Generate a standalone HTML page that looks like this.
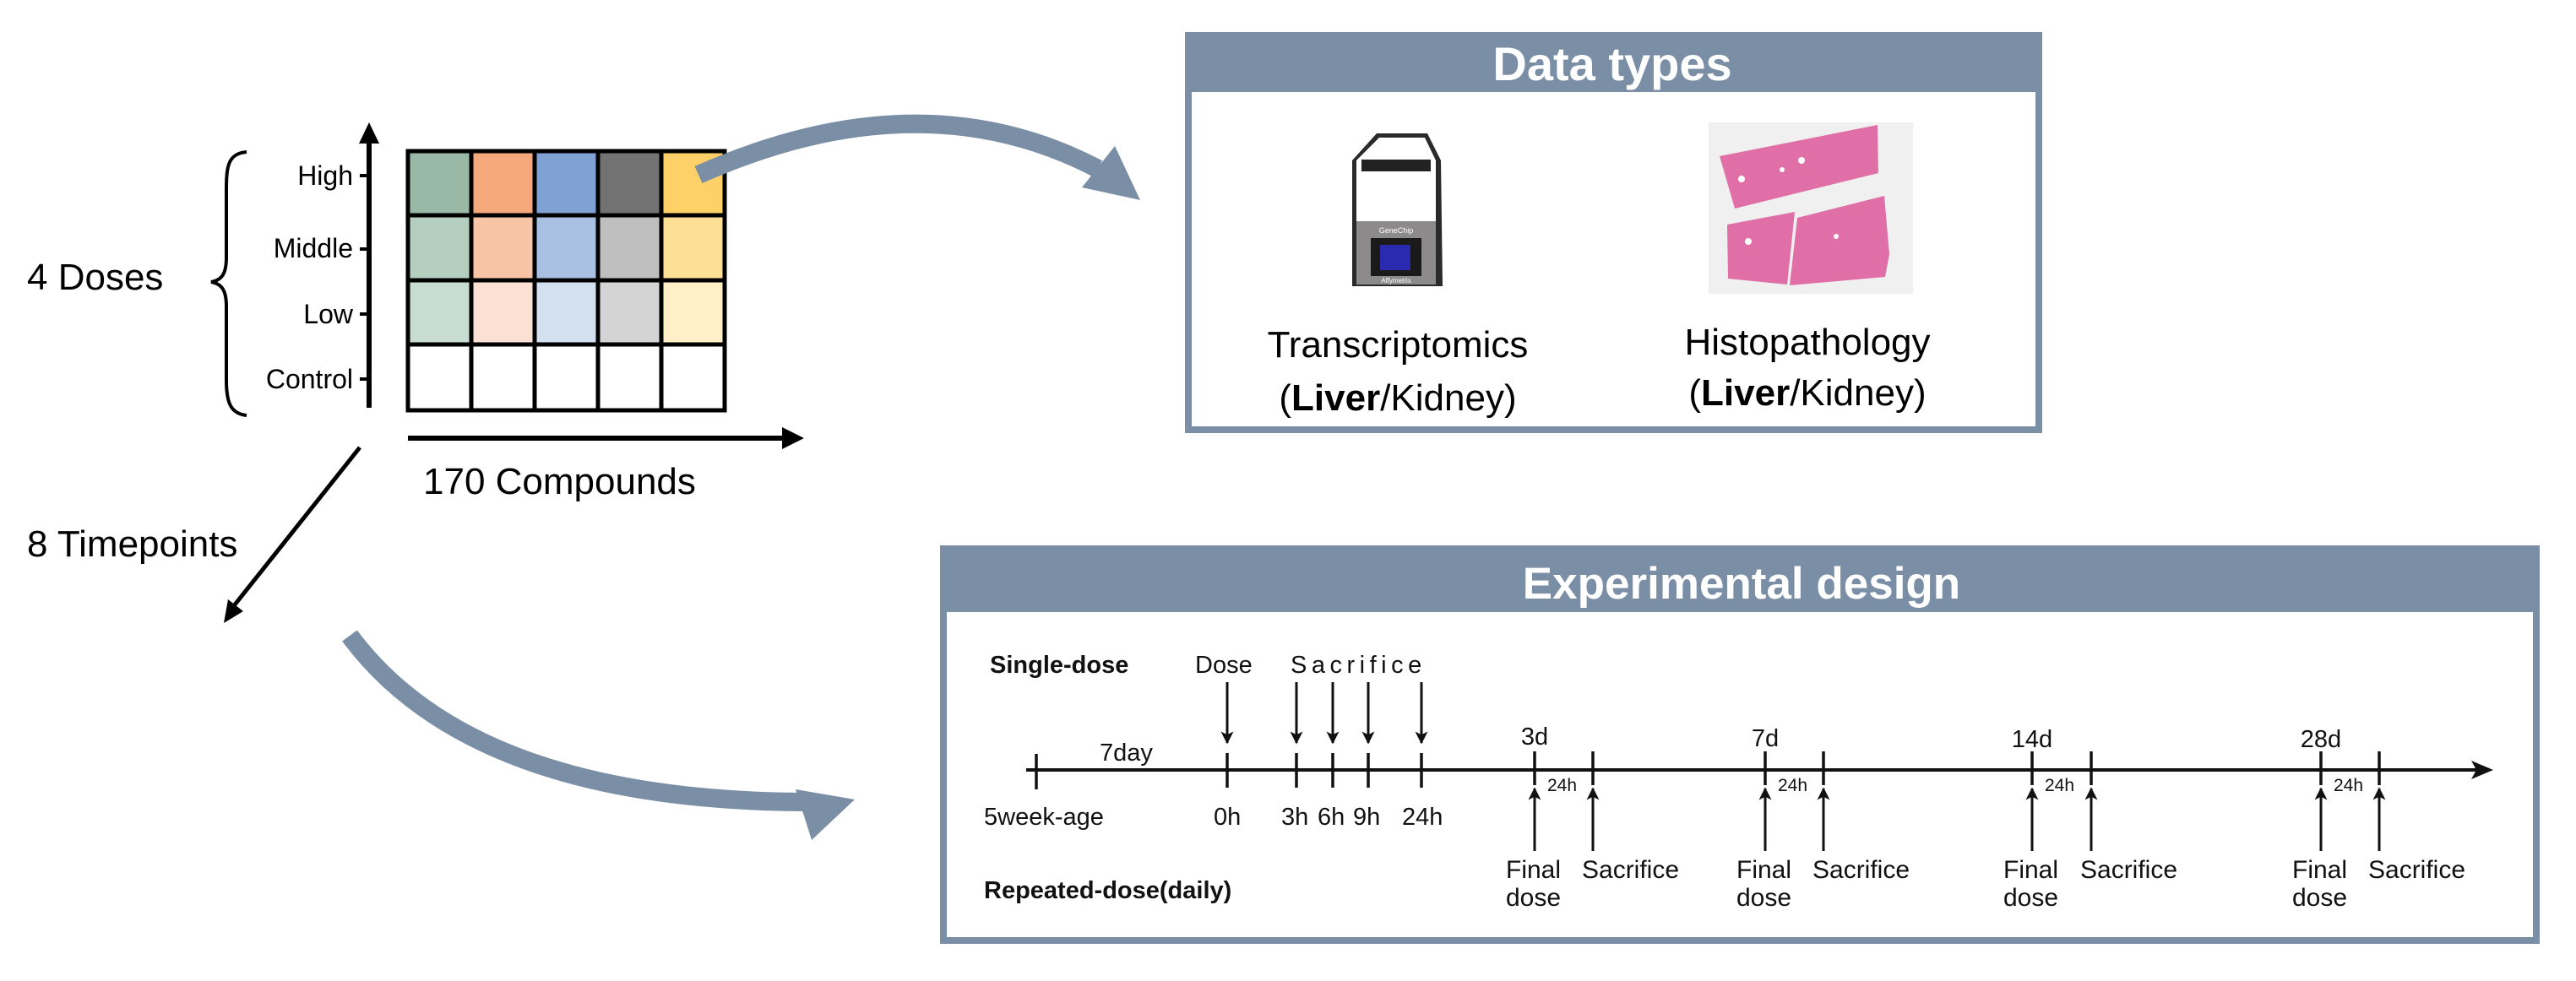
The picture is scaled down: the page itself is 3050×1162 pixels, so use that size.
<!DOCTYPE html>
<html><head><meta charset="utf-8"><style>
html,body{margin:0;padding:0;background:#fff;}
svg{display:block;font-family:"Liberation Sans",Arial,sans-serif;}
</style></head><body>
<svg width="3050" height="1162" viewBox="0 0 3050 1162" xmlns="http://www.w3.org/2000/svg">
<defs>
<marker id="ah2" viewBox="0 0 10 10" refX="9" refY="5" markerWidth="6" markerHeight="5" orient="auto"><path d="M0,0 L10,5 L0,10 L2.5,5 z" fill="#111"/></marker>
</defs>

<g>
<rect x="483" y="179" width="75" height="76" fill="#99b9a6"/><rect x="558" y="179" width="75" height="76" fill="#f5a87c"/><rect x="633" y="179" width="75" height="76" fill="#7fa1d4"/><rect x="708" y="179" width="75" height="76" fill="#727272"/><rect x="783" y="179" width="75" height="76" fill="#fdd168"/>
<rect x="483" y="255" width="75" height="77" fill="#b4cebf"/><rect x="558" y="255" width="75" height="77" fill="#f8c4a6"/><rect x="633" y="255" width="75" height="77" fill="#a8c0e2"/><rect x="708" y="255" width="75" height="77" fill="#bfbfbf"/><rect x="783" y="255" width="75" height="77" fill="#fde096"/>
<rect x="483" y="332" width="75" height="76" fill="#c9dcd1"/><rect x="558" y="332" width="75" height="76" fill="#fbe0d3"/><rect x="633" y="332" width="75" height="76" fill="#d3e0f0"/><rect x="708" y="332" width="75" height="76" fill="#d4d4d4"/><rect x="783" y="332" width="75" height="76" fill="#fff0c8"/>
<g stroke="#000" stroke-width="5" fill="none">
<rect x="483" y="179" width="375" height="307"/>
<line x1="558" y1="179" x2="558" y2="486"/><line x1="633" y1="179" x2="633" y2="486"/><line x1="708" y1="179" x2="708" y2="486"/><line x1="783" y1="179" x2="783" y2="486"/>
<line x1="483" y1="255" x2="858" y2="255"/><line x1="483" y1="332" x2="858" y2="332"/><line x1="483" y1="408" x2="858" y2="408"/>
</g>
</g>
<line x1="437" y1="483" x2="437" y2="168" stroke="#000" stroke-width="6"/>
<path d="M437,145 L449,170 L425,170 z" fill="#000"/>
<g stroke="#000" stroke-width="4"><line x1="426" y1="208" x2="437" y2="208"/><line x1="426" y1="295" x2="437" y2="295"/><line x1="426" y1="372" x2="437" y2="372"/><line x1="426" y1="449" x2="437" y2="449"/></g>
<g font-size="32" text-anchor="end" fill="#000">
<text x="418" y="219">High</text><text x="418" y="305">Middle</text><text x="418" y="383">Low</text><text x="418" y="460">Control</text>
</g>
<path d="M292,180 C268,182 268,200 268,230 L268,305 C268,325 262,332 250,334 C262,336 268,343 268,363 L268,450 C268,475 272,490 292,492" stroke="#000" stroke-width="4" fill="none"/>
<text x="32" y="343" font-size="44">4 Doses</text>
<line x1="483" y1="519" x2="930" y2="519" stroke="#000" stroke-width="6"/>
<path d="M952,519 L926,506 L926,532 z" fill="#000"/>
<text x="501" y="585" font-size="44">170 Compounds</text>
<line x1="426" y1="530" x2="275" y2="720" stroke="#000" stroke-width="5"/>
<path d="M265,738 L270,710 L288,724 z" fill="#000"/>
<text x="32" y="659" font-size="44">8 Timepoints</text>

<path d="M827,207 Q1090,90 1300,200" stroke="#7a8ea6" stroke-width="22" fill="none"/>
<path d="M1350,237 L1320,173 L1281,222 z" fill="#7a8ea6"/>
<path d="M414,753 Q560,950 960,950" stroke="#7a8ea6" stroke-width="22" fill="none"/>
<path d="M1012,947 L942,935 L961,995 z" fill="#7a8ea6"/>

<rect x="1403" y="38" width="1015" height="475" fill="#7a8ea6"/>
<rect x="1411" y="109" width="999" height="396" fill="#fff"/>
<text x="1909" y="95" font-size="56" font-weight="bold" fill="#fff" text-anchor="middle">Data types</text>
<path d="M1630,158 L1690,158 L1706,190 L1708,339 L1601,339 L1601,190 z" fill="#2a2a2a"/>
<path d="M1633,163 L1687,163 L1700,190 L1700,262 L1606,262 L1606,190 z" fill="#fff"/>
<rect x="1606" y="262" width="94" height="75" fill="#8c8a8a"/>
<rect x="1612" y="189" width="82" height="14" fill="#222"/>
<rect x="1623" y="282" width="60" height="45" fill="#1a1a1a"/>
<rect x="1634" y="290" width="36" height="30" fill="#2a2ab0"/>
<text x="1653" y="276" font-size="9" fill="#fff" text-anchor="middle">GeneChip</text>
<text x="1653" y="335" font-size="8" fill="#fff" text-anchor="middle">Affymetrix</text>
<rect x="2023" y="145" width="242" height="203" fill="#f1f0f0"/>
<path d="M2036,185 L2223,148 L2224,205 L2054,247 z" fill="#df6fa6"/>
<path d="M2045,266 L2125,251 L2116,337 L2046,330 z" fill="#df6fa6"/>
<path d="M2128,258 L2231,232 L2237,301 L2232,328 L2119,338 z" fill="#df6fa6"/>
<g fill="#fff"><circle cx="2133" cy="190" r="4"/><circle cx="2110" cy="201" r="3"/><circle cx="2062" cy="212" r="4"/><circle cx="2070" cy="286" r="4"/><circle cx="2174" cy="280" r="3"/></g>
<g font-size="44" fill="#000" text-anchor="middle">
<text x="1655" y="423">Transcriptomics</text>
<text x="1655" y="486">(<tspan font-weight="bold">Liver</tspan>/Kidney)</text>
<text x="2140" y="420">Histopathology</text>
<text x="2140" y="480">(<tspan font-weight="bold">Liver</tspan>/Kidney)</text>
</g>

<rect x="1113" y="646" width="1894" height="472" fill="#7a8ea6"/>
<rect x="1121" y="725" width="1878" height="385" fill="#fff"/>
<text x="2062" y="709" font-size="53" font-weight="bold" fill="#fff" text-anchor="middle">Experimental design</text>

<line x1="1215" y1="912" x2="2945" y2="912" stroke="#111" stroke-width="4"/>
<path d="M2952,912 L2926,901 L2932,912 L2926,923 z" fill="#111"/>
<g stroke="#111" stroke-width="3.5">
<line x1="1227" y1="893" x2="1227" y2="935"/>
<line x1="1453" y1="892" x2="1453" y2="933"/><line x1="1535" y1="892" x2="1535" y2="933"/><line x1="1578" y1="892" x2="1578" y2="933"/><line x1="1620" y1="892" x2="1620" y2="933"/><line x1="1683" y1="892" x2="1683" y2="933"/>
<line x1="1817" y1="890" x2="1817" y2="930"/><line x1="1886" y1="890" x2="1886" y2="930"/>
<line x1="2090" y1="890" x2="2090" y2="930"/><line x1="2159" y1="890" x2="2159" y2="930"/>
<line x1="2406" y1="890" x2="2406" y2="930"/><line x1="2476" y1="890" x2="2476" y2="930"/>
<line x1="2748" y1="890" x2="2748" y2="930"/><line x1="2817" y1="890" x2="2817" y2="930"/>
</g>
<g stroke="#111" stroke-width="3" marker-end="url(#ah2)">
<line x1="1453" y1="808" x2="1453" y2="880"/><line x1="1535" y1="808" x2="1535" y2="880"/><line x1="1578" y1="808" x2="1578" y2="880"/><line x1="1620" y1="808" x2="1620" y2="880"/><line x1="1683" y1="808" x2="1683" y2="880"/>
<line x1="1817" y1="1008" x2="1817" y2="934"/><line x1="1886" y1="1008" x2="1886" y2="934"/>
<line x1="2090" y1="1008" x2="2090" y2="934"/><line x1="2159" y1="1008" x2="2159" y2="934"/>
<line x1="2406" y1="1008" x2="2406" y2="934"/><line x1="2476" y1="1008" x2="2476" y2="934"/>
<line x1="2748" y1="1008" x2="2748" y2="934"/><line x1="2817" y1="1008" x2="2817" y2="934"/>
</g>
<g font-size="29" fill="#111">
<text x="1172" y="797" font-weight="bold">Single-dose</text>
<text x="1415" y="797">Dose</text>
<text x="1528" y="797" letter-spacing="5.5">Sacrifice</text>
<text x="1302" y="901">7day</text>
<text x="1165" y="977">5week-age</text>
<text x="1437" y="977">0h</text>
<text x="1517" y="977">3h</text><text x="1560" y="977">6h</text><text x="1602" y="977">9h</text><text x="1660" y="977">24h</text>
<text x="1817" y="882" text-anchor="middle">3d</text>
<text x="2090" y="884" text-anchor="middle">7d</text>
<text x="2406" y="885" text-anchor="middle">14d</text>
<text x="2748" y="885" text-anchor="middle">28d</text>
<text x="1165" y="1064" font-weight="bold">Repeated-dose(daily)</text>
</g>
<g font-size="21" fill="#111">
<text x="1832" y="937">24h</text><text x="2105" y="937">24h</text><text x="2421" y="937">24h</text><text x="2763" y="937">24h</text>
</g>
<g font-size="30" fill="#111">
<text x="1783" y="1040">Final</text><text x="1783" y="1073">dose</text><text x="1873" y="1040">Sacrifice</text>
<text x="2056" y="1040">Final</text><text x="2056" y="1073">dose</text><text x="2146" y="1040">Sacrifice</text>
<text x="2372" y="1040">Final</text><text x="2372" y="1073">dose</text><text x="2463" y="1040">Sacrifice</text>
<text x="2714" y="1040">Final</text><text x="2714" y="1073">dose</text><text x="2804" y="1040">Sacrifice</text>
</g>
</svg>
</body></html>
